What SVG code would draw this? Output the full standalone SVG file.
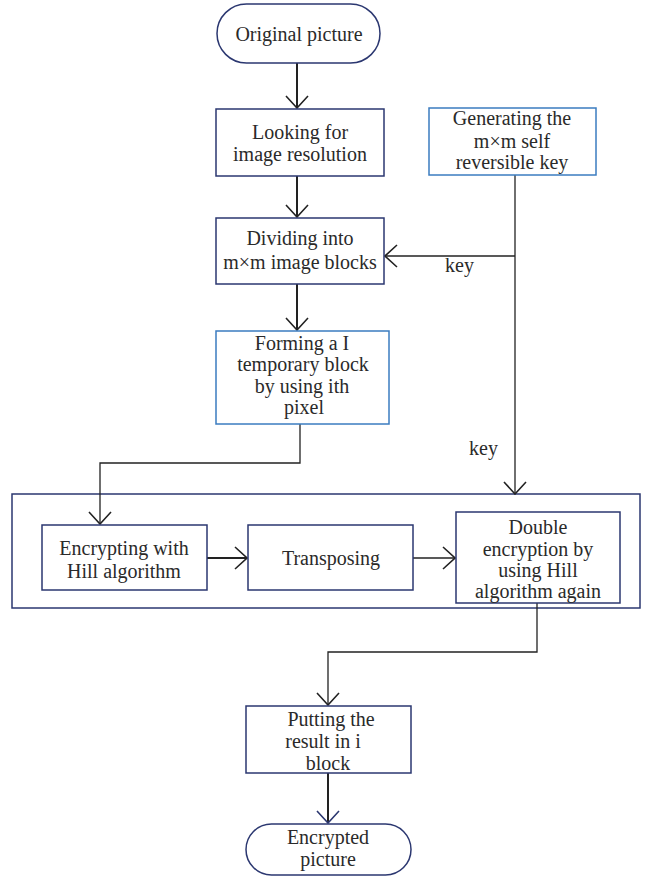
<svg xmlns="http://www.w3.org/2000/svg" width="648" height="877" viewBox="0 0 648 877">
<style>
.n{fill:#fff;stroke:#2b3770;stroke-width:1.5}
.b{fill:#fff;stroke:#3b7cc0;stroke-width:1.5}
.o{fill:none;stroke:#2b3770;stroke-width:1.5}
.t{font-family:"Liberation Serif",serif;font-size:20px;fill:#2a2a2a;text-anchor:middle}
.k{font-family:"Liberation Serif",serif;font-size:20px;fill:#2a2a2a}
.c{fill:none;stroke:#222;stroke-width:2}
.c2{fill:none;stroke:#222;stroke-width:1.3}
</style>
<defs>
<marker id="ah" markerUnits="userSpaceOnUse" markerWidth="14" markerHeight="26" viewBox="0 0 14 26" refX="13" refY="13" orient="auto">
<path d="M1,2 L13,13 L1,24" fill="none" stroke="#222" stroke-width="1.6"/>
</marker>
<marker id="ahn" markerUnits="userSpaceOnUse" markerWidth="14" markerHeight="26" viewBox="0 0 14 26" refX="13" refY="13" orient="auto">
<path d="M1,2 L13,13 L1,24" fill="none" stroke="#2b3770" stroke-width="1.6"/>
</marker>
</defs>
<g id="outer"><rect class="o" x="12" y="494" width="628" height="114"/></g>
<g id="connectors">
<path class="c" d="M297,63 V108" marker-end="url(#ah)"/>
<path class="c" d="M297,176 V217" marker-end="url(#ah)"/>
<path class="c" d="M297,284 V330" marker-end="url(#ah)"/>
<path class="c2" d="M515,175 V494" marker-end="url(#ah)"/>
<path class="c2" d="M515,256 H385" marker-end="url(#ah)"/>
<path class="c2" d="M300,424 V463 H100 V524" marker-end="url(#ah)"/>
<path class="c" d="M207,558 H247" marker-end="url(#ah)"/>
<path class="c2" d="M412,558 H455" marker-end="url(#ah)"/>
<path class="c2" d="M537,603 V652 H328 V705" marker-end="url(#ah)"/>
<path class="c" d="M328,773 V823" stroke="#2b3770" marker-end="url(#ahn)"/>
<text class="k" x="445" y="272">key</text>
<text class="k" x="469" y="455">key</text>
</g>
<g id="original"><rect class="n" x="217" y="4" width="163" height="59" rx="29.5"/><text class="t" x="299" y="41">Original picture</text></g>
<g id="looking"><rect class="n" x="216" y="109" width="168" height="67"/><text class="t" x="300" y="139">Looking for</text><text class="t" x="300" y="161">image resolution</text></g>
<g id="generating"><rect class="b" x="429" y="108" width="167" height="67"/><text class="t" x="512" y="125">Generating the</text><text class="t" x="512" y="148">m×m self</text><text class="t" x="512" y="169">reversible key</text></g>
<g id="dividing"><rect class="n" x="216" y="218" width="168" height="66"/><text class="t" x="300" y="245">Dividing into</text><text class="t" x="300" y="269">m×m image blocks</text></g>
<g id="forming"><rect class="b" x="216" y="331" width="173" height="93"/><text class="t" x="302" y="350">Forming a I</text><text class="t" x="303" y="371">temporary block</text><text class="t" x="302" y="393">by using ith</text><text class="t" x="304" y="414">pixel</text></g>
<g id="encrypting"><rect class="n" x="42" y="525" width="165" height="65"/><text class="t" x="124" y="555">Encrypting with</text><text class="t" x="124" y="578">Hill algorithm</text></g>
<g id="transposing"><rect class="n" x="248" y="525" width="165" height="65"/><text class="t" x="331" y="565">Transposing</text></g>
<g id="double"><rect class="n" x="456" y="512" width="164" height="91"/><text class="t" x="538" y="534">Double</text><text class="t" x="538" y="556">encryption by</text><text class="t" x="538" y="577">using Hill</text><text class="t" x="538" y="598">algorithm again</text></g>
<g id="putting"><rect class="n" x="246" y="706" width="165" height="67"/><text class="t" x="331" y="726">Putting the</text><text class="t" x="323" y="748">result in i</text><text class="t" x="328" y="770">block</text></g>
<g id="encrypted"><rect class="n" x="246" y="824" width="165" height="51" rx="25.5"/><text class="t" x="328" y="844">Encrypted</text><text class="t" x="328" y="866">picture</text></g>
</svg>
